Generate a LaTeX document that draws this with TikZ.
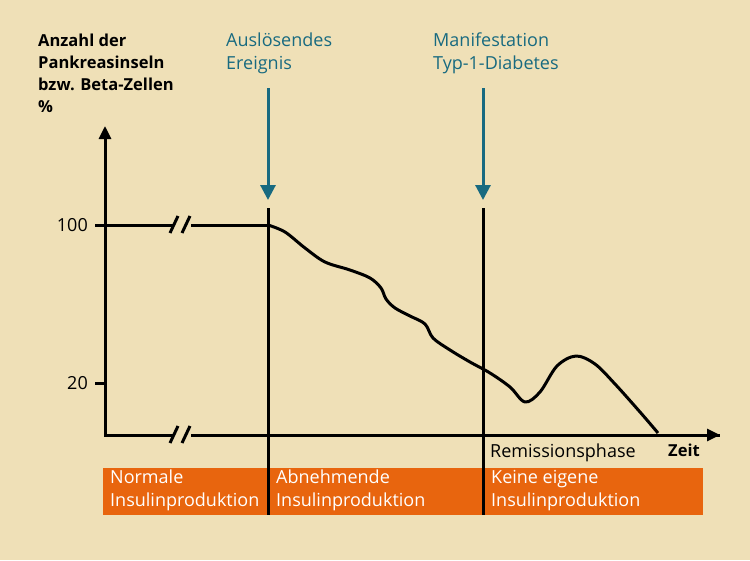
\documentclass[tikz,border=0pt]{standalone}
\usepackage{fontspec}
\setmainfont{Open Sans}
\usetikzlibrary{arrows.meta}
\definecolor{bg}{RGB}{239,224,183}
\definecolor{teal}{RGB}{24,106,128}
\definecolor{orng}{RGB}{232,101,14}
\begin{document}
\begin{tikzpicture}[x=1pt,y=-1pt,
  ax/.style={line width=3pt,-{Triangle[length=13pt,width=12pt]}},
  thick2/.style={line width=3pt},
  bluearrow/.style={teal,line width=3pt,-{Triangle[length=15pt,width=15pt]}},
  lbl/.style={font=\fontsize{18}{23}\selectfont,anchor=north west,align=left,inner sep=0pt},
  wl/.style={lbl,white}]
\fill[bg] (0,0) rectangle (750,560);
\useasboundingbox (0,0) rectangle (750,560);
% bar
\fill[orng] (103,468) rectangle (703,515);
\node[wl] (b1) at (110,470) {Normale\\Insulinproduktion};
\node[wl] (b2) at (276,470) {Abnehmende\\Insulinproduktion};
\node[wl] (b3) at (491,470) {Keine eigene\\Insulinproduktion};
% axes
\coordinate (o) at (105,435);
\coordinate (yt) at (105,126);
\coordinate (xt) at (720,435);
\draw[ax] (105,436.5) -- (yt);
\draw[thick2] (o) -- (174,435) (191,435) -- (xt);
\draw[ax] (700,435) -- (xt);
\draw[thick2] (170,443) -- (178,426) (182,443) -- (190,426);
% 100 line
\draw[thick2] (95,225) -- (174,225) (191,225) -- (268,225);
\draw[thick2] (170,233) -- (178,216) (182,233) -- (190,216);
\draw[thick2] (95,383) -- (105,383);
\node[lbl,anchor=east] (l100) at (88,225) {100};
\node[lbl,anchor=east] (l20) at (88,383) {20};
% verticals
\draw[thick2] (268,208) -- (268,515);
\draw[thick2] (483,208) -- (483,515);
% blue arrows
\coordinate (a1) at (268,88); \coordinate (a1e) at (268,200);
\coordinate (a2) at (483,88); \coordinate (a2e) at (483,200);
\draw[bluearrow] (a1) -- (a1e);
\draw[bluearrow] (a2) -- (a2e);
\node[lbl,teal] (t1) at (226,33) {Auslösendes\\Ereignis};
\node[lbl,teal] (t2) at (433,33) {Manifestation\\Typ-1-Diabetes};
% curve
\draw[thick2,line join=round] plot[smooth,tension=0.55] coordinates {
 (268,225) (285,232) (305,248) (325,262) (350,270) (370,278) (381,288) (386,299) (395,308) (410,316) (425,324) (433,338) (450,350) (470,362) (490,373) (510,387) (525,402) (540,392) (557,366) (576,356) (595,364) (615,384) (640,412) (658,433)};
% labels
\node[lbl,font=\fontsize{16.5}{22}\selectfont\bfseries] (yl) at (38,34) {Anzahl der\\Pankreasinseln\\bzw. Beta-Zellen\\\%};
\node[lbl] (rem) at (490,444) {Remissionsphase};
\node[lbl,font=\fontsize{16.5}{20}\selectfont\bfseries] (zeit) at (668,444) {Zeit};
\end{tikzpicture}
\end{document}
